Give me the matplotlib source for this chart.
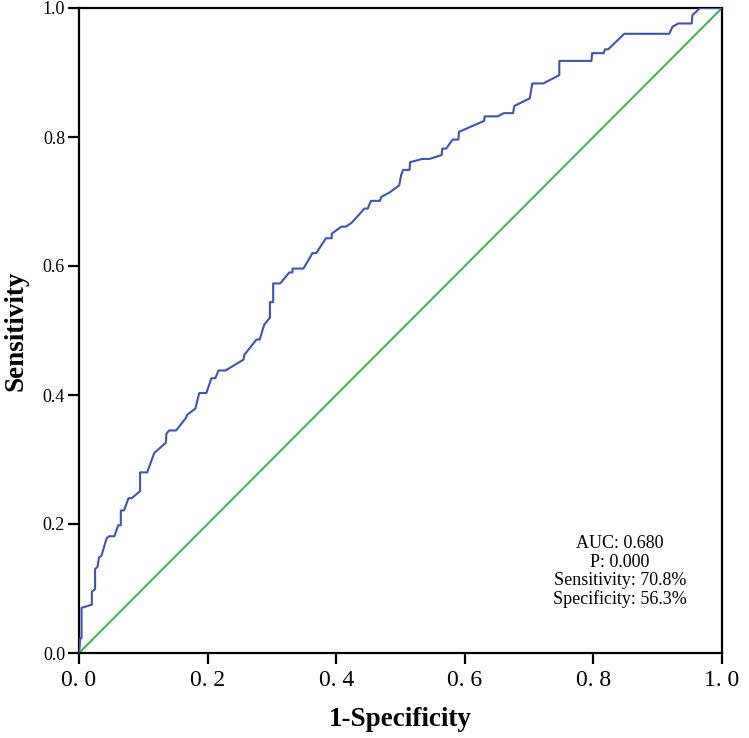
import matplotlib
matplotlib.use("Agg")
import matplotlib.pyplot as plt

fpr = [0.000, 0.002, 0.004, 0.004, 0.020, 0.020, 0.025, 0.025, 0.029, 0.031,
       0.035, 0.043, 0.047, 0.055, 0.061, 0.065, 0.065, 0.070, 0.077, 0.082,
       0.095, 0.095, 0.106, 0.117, 0.135, 0.136, 0.140, 0.151, 0.166, 0.168,
       0.181, 0.187, 0.198, 0.206, 0.212, 0.217, 0.228, 0.256, 0.257, 0.276,
       0.281, 0.288, 0.297, 0.297, 0.302, 0.302, 0.313, 0.327, 0.332, 0.332,
       0.349, 0.358, 0.363, 0.369, 0.384, 0.393, 0.393, 0.408, 0.415, 0.424,
       0.444, 0.449, 0.454, 0.468, 0.470, 0.483, 0.498, 0.501, 0.504, 0.514,
       0.515, 0.534, 0.545, 0.564, 0.565, 0.571, 0.581, 0.590, 0.591, 0.630,
       0.631, 0.651, 0.661, 0.675, 0.677, 0.701, 0.705, 0.722, 0.747, 0.747,
       0.797, 0.798, 0.816, 0.818, 0.823, 0.848, 0.918, 0.923, 0.932, 0.953,
       0.954, 0.966, 1.000]
tpr = [0.000, 0.023, 0.023, 0.070, 0.075, 0.095, 0.099, 0.130, 0.134, 0.148,
       0.151, 0.178, 0.181, 0.181, 0.198, 0.198, 0.221, 0.221, 0.240, 0.240,
       0.251, 0.280, 0.280, 0.310, 0.326, 0.340, 0.345, 0.345, 0.364, 0.369,
       0.379, 0.403, 0.403, 0.426, 0.426, 0.438, 0.438, 0.455, 0.462, 0.486,
       0.486, 0.509, 0.520, 0.544, 0.544, 0.573, 0.573, 0.590, 0.590, 0.596,
       0.596, 0.611, 0.620, 0.620, 0.643, 0.643, 0.650, 0.661, 0.661, 0.667,
       0.689, 0.689, 0.701, 0.701, 0.707, 0.714, 0.725, 0.741, 0.749, 0.749,
       0.761, 0.766, 0.766, 0.772, 0.782, 0.782, 0.796, 0.796, 0.808, 0.825,
       0.832, 0.832, 0.837, 0.837, 0.848, 0.860, 0.883, 0.883, 0.896, 0.918,
       0.918, 0.930, 0.930, 0.936, 0.936, 0.960, 0.960, 0.971, 0.976, 0.976,
       0.989, 1.000, 1.000]
ref_x = [0.0, 1.0]
ref_y = [0.0, 1.0]

tick_vals = [0.0, 0.2, 0.4, 0.6, 0.8, 1.0]
x_tick_labels = ["0. 0", "0. 2", "0. 4", "0. 6", "0. 8", "1. 0"]
y_tick_labels = ["0.0", "0.2", "0.4", "0.6", "0.8", "1.0"]
stats_text = "AUC: 0.680\nP: 0.000\nSensitivity: 70.8%\nSpecificity: 56.3%"

serif = ["Liberation Serif", "DejaVu Serif"]

fig = plt.figure(figsize=(7.49, 7.38), dpi=100)
ax = fig.add_axes([79/749, (738-653)/738, (722-79)/749, (653-8)/738])

ax.plot(ref_x, ref_y, color="#35B84A", lw=1.4, zorder=2)
ax.plot(fpr, tpr, color="#3D54B2", lw=1.5, zorder=3)

ax.set_xlim(0, 1)
ax.set_ylim(0, 1)
ax.set_xticks(tick_vals)
ax.set_xticklabels(x_tick_labels, fontfamily=serif, fontsize=17)
ax.set_yticks(tick_vals)
ax.set_yticklabels(y_tick_labels, fontfamily=serif, fontsize=13)
ax.tick_params(axis="both", direction="out", length=8, width=1.6, colors="black")
ax.tick_params(axis="x", pad=4)
ax.tick_params(axis="y", pad=2)
for s in ax.spines.values():
    s.set_linewidth(1.6)
    s.set_color("black")

ax.set_xlabel("1-Specificity", fontfamily=serif, fontsize=19.5, fontweight="bold", labelpad=12)
ax.set_ylabel("Sensitivity", fontfamily=serif, fontsize=19.5, fontweight="bold", labelpad=10)

ax.text(0.841, 0.126, stats_text, ha="center", va="center", fontfamily=serif,
        fontsize=13, linespacing=1.1, transform=ax.transData)

fig.savefig("out.png", dpi=100)
